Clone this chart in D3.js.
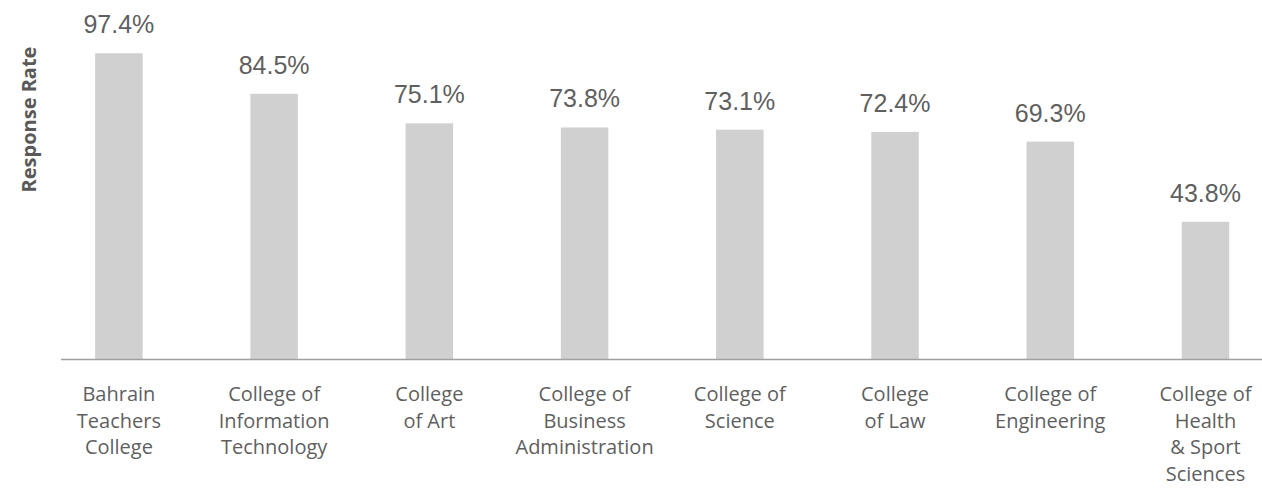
<!DOCTYPE html>
<html>
<head>
<meta charset="utf-8">
<style>
  body { margin: 0; background: #fff; }
  .val { font-family: "Liberation Sans", Arial, sans-serif; font-size: 25px; fill: #5f5f5f; text-anchor: middle; }
  .cat { font-family: "Open Sans", sans-serif; font-size: 20px; fill: #5f5f5f; text-anchor: middle; }
  .ytitle { font-family: "Open Sans", sans-serif; font-size: 20px; font-weight: bold; fill: #595959; text-anchor: middle; }
</style>
</head>
<body>
<div id="chart"></div>
<script src="https://d3js.org/d3.v7.min.js"></script>
<script>
// colleges, label lines, response rates
var colleges = ["Bahrain Teachers College", "College of Information Technology", "College of Art",
  "College of Business Administration", "College of Science", "College of Law",
  "College of Engineering", "College of Health & Sport Sciences"];
var labelLines = [
  ["Bahrain", "Teachers", "College"],
  ["College of", "Information", "Technology"],
  ["College", "of Art"],
  ["College of", "Business", "Administration"],
  ["College of", "Science"],
  ["College", "of Law"],
  ["College of", "Engineering"],
  ["College of", "Health", "& Sport", "Sciences"]
];
var rates = [97.4, 84.5, 75.1, 73.8, 73.1, 72.4, 69.3, 43.8];

var width = 1262, height = 488;
var baseY = 359.5;

var svg = d3.select("#chart").append("svg")
  .attr("width", width)
  .attr("height", height);

var x = d3.scaleBand()
  .domain(colleges)
  .range([41.3, 1283.1])
  .paddingInner(0.694)
  .paddingOuter(0.347);

var y = d3.scaleLinear()
  .domain([0, 100])
  .range([baseY, baseY - 314.4]);

var data = colleges.map(function(c, i) {
  return { name: c, value: rates[i], lines: labelLines[i] };
});

// bars
svg.selectAll("rect.bar")
  .data(data)
  .enter().append("rect")
  .attr("class", "bar")
  .attr("x", function(d) { return x(d.name); })
  .attr("width", x.bandwidth())
  .attr("y", function(d) { return y(d.value); })
  .attr("height", function(d) { return baseY - y(d.value); })
  .attr("fill", "#d0d0d0");

// baseline
svg.append("line")
  .attr("x1", 61).attr("x2", width)
  .attr("y1", baseY).attr("y2", baseY)
  .attr("stroke", "#a0a0a0")
  .attr("stroke-width", 1.6);

// value labels
svg.selectAll("text.val")
  .data(data)
  .enter().append("text")
  .attr("class", "val")
  .attr("x", function(d) { return x(d.name) + x.bandwidth() / 2; })
  .attr("y", function(d) { return y(d.value) - 20; })
  .text(function(d) { return d.value.toFixed(1) + "%"; });

// category labels
var cats = svg.selectAll("text.cat")
  .data(data)
  .enter().append("text")
  .attr("class", "cat")
  .attr("x", function(d) { return x(d.name) + x.bandwidth() / 2; })
  .attr("y", 401);

cats.selectAll("tspan")
  .data(function(d) { return d.lines.map(function(l) { return { t: l, cx: x(d.name) + x.bandwidth() / 2 }; }); })
  .enter().append("tspan")
  .attr("x", function(d) { return d.cx; })
  .attr("dy", function(d, i) { return i === 0 ? 0 : 26.5; })
  .text(function(d) { return d.t; });

// y title
svg.append("text")
  .attr("class", "ytitle")
  .attr("transform", "translate(36,119.5) rotate(-90)")
  .text("Response Rate");
</script>
</body>
</html>
